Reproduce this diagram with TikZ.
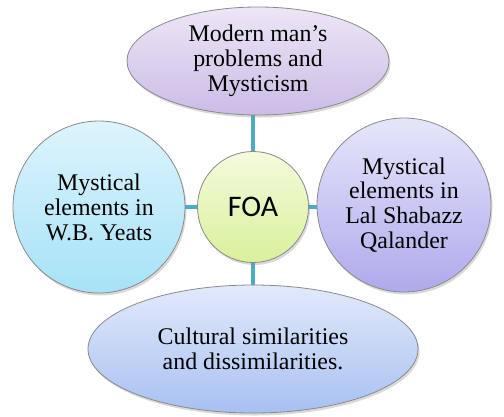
\documentclass[tikz,border=0pt]{standalone}
\usepackage{fontspec}
\setmainfont{Liberation Serif}
\newfontfamily\calfont{Carlito}
\usepackage{tikz}
\usetikzlibrary{shapes.geometric,shadows,backgrounds}

\definecolor{linkblue}{HTML}{4BACC6}
\definecolor{rimgray}{HTML}{8A8A8A}
\definecolor{lilactop}{HTML}{ECE6F6}
\definecolor{lilacbot}{HTML}{CBBCE6}
\definecolor{limetop}{HTML}{F4FBDC}
\definecolor{limebot}{HTML}{D9F09C}
\definecolor{skytop}{HTML}{DDF4FC}
\definecolor{skybot}{HTML}{A6E2F7}
\definecolor{irisop}{HTML}{E6E6FA}
\definecolor{irisbot}{HTML}{AEAAEC}
\definecolor{paletop}{HTML}{E2EAFB}
\definecolor{palebot}{HTML}{A8C0F1}

\begin{document}
\begin{tikzpicture}[x=1bp,y=-1bp]
	\tikzstyle{every node}+=[inner sep=0pt, align=center, font=\fontsize{24}{25}\selectfont]
	\tikzstyle{bubble}=[draw=rimgray, line width=0.8bp, drop shadow={opacity=0.3, shadow xshift=1.5bp, shadow yshift=-2.5bp}]
	\tikzstyle{link}=[draw=linkblue, line width=4bp]
	\useasboundingbox (0,0) rectangle (504,416);
	\node [bubble, ellipse, minimum width=262bp, minimum height=108bp, top color=lilactop, bottom color=lilacbot] (mans) at (258,61) {Modern man's\\problems and\\Mysticism};
	\node [bubble, circle, minimum size=111bp, top color=limetop, bottom color=limebot, font=\calfont\fontsize{30}{32}\selectfont] (foa) at (253,207) {FOA};
	\node [bubble, circle, minimum size=172bp, top color=skytop, bottom color=skybot] (yeats) at (99,207) {Mystical\\elements in\\W.B. Yeats};
	\node [bubble, circle, minimum size=174bp, top color=irisop, bottom color=irisbot] (qalander) at (404,205) {Mystical\\elements in\\Lal Shabazz\\Qalander};
	\node [bubble, ellipse, minimum width=330bp, minimum height=128bp, top color=paletop, bottom color=palebot] (culture) at (253,349) {Cultural similarities\\and dissimilarities.};
	% spokes sit behind the bubbles
	\begin{pgfonlayer}{background}
		\draw [link] (mans.south -| foa.north) -- (foa.north);
		\draw [link] (foa.south) -- (culture.north);
		\draw [link] (yeats.east) -- (foa.west);
		\draw [link] (foa.east) -- (foa.east -| qalander.west);
	\end{pgfonlayer}
\end{tikzpicture}
\end{document}
